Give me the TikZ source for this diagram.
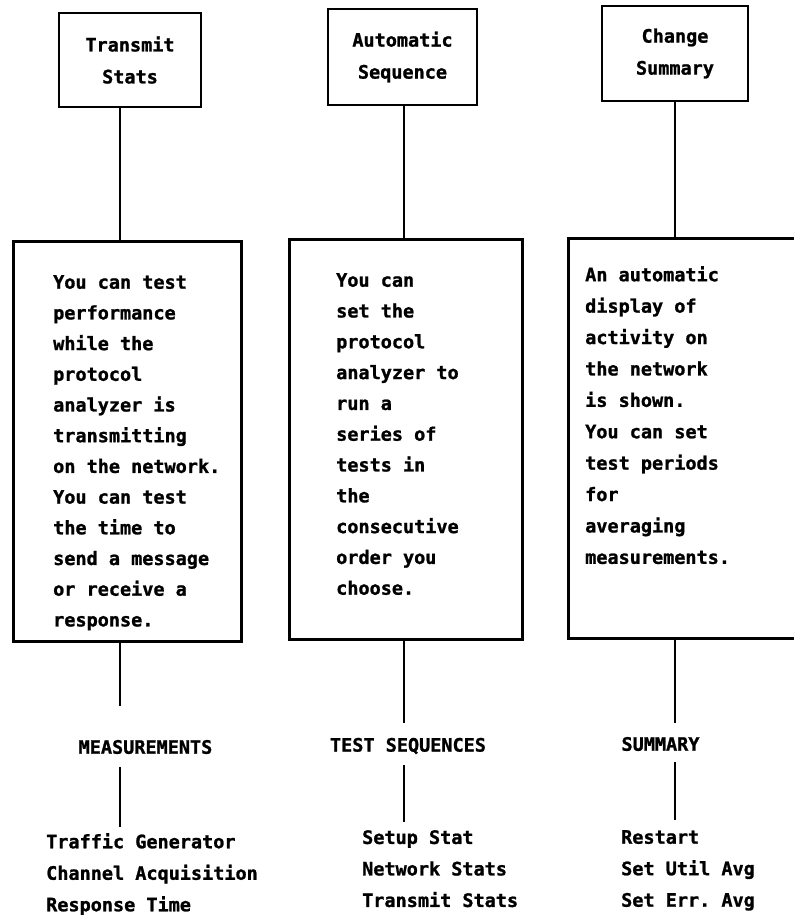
\documentclass[tikz,border=0pt]{standalone}
\usepackage{fontspec}
\setmonofont{DejaVu Sans Mono}[BoldFeatures={FakeBold=1.2}]
\tikzset{
  every node/.style={font=\ttfamily\bfseries\fontsize{18.5}{31}\selectfont},
  topbox/.style={draw, line width=2.6pt, inner sep=0pt, align=center,
    font=\ttfamily\bfseries\fontsize{18.5}{32}\selectfont},
  bigbox/.style={draw, line width=2.6pt, inner sep=0pt, anchor=north west, minimum height=400pt},
  body/.style={anchor=north west, align=left, inner sep=0pt},
  label/.style={inner sep=0pt},
  conn/.style={line width=2.6pt},
}
\begin{document}
\begin{tikzpicture}[x=1pt,y=-1pt]
\useasboundingbox (0,0) rectangle (794,915);
\clip (0,0) rectangle (794,915);
\fill[white] (0,0) rectangle (794,915);

% top boxes
\node[topbox, minimum width=142pt, minimum height=94pt] (t1) at (130,60) {Transmit\\Stats};
\node[topbox, minimum width=149pt, minimum height=96pt] (t2) at (402.5,57) {Automatic\\Sequence};
\node[topbox, minimum width=146pt, minimum height=95pt] (t3) at (675,53.5) {Change\\Summary};

% middle boxes
\node[bigbox, minimum width=228pt] (m1) at (12,240) {};
\node[bigbox, minimum width=233pt] (m2) at (288,238) {};
\node[bigbox, minimum width=260pt] (m3) at (567,237) {};

\node[body, font=\ttfamily\bfseries\fontsize{18.5}{30.7}\selectfont] (b1) at (53,275) {You can test\\performance\\while the\\protocol\\analyzer is\\transmitting\\on the network.\\You can test\\the time to\\send a message\\or receive a\\response.};
\node[body, font=\ttfamily\bfseries\fontsize{18.5}{30.8}\selectfont] (b2) at (336,273) {You can\\set the\\protocol\\analyzer to\\run a\\series of\\tests in\\the\\consecutive\\order you\\choose.};
\node[body, font=\ttfamily\bfseries\fontsize{18.5}{31.4}\selectfont] (b3) at (585,266) {An automatic\\display of\\activity on\\the network\\is shown.\\You can set\\test periods\\for\\averaging\\measurements.};

% section labels
\node[label] (l1) at (145.5,747) {MEASUREMENTS};
\node[label] (l2) at (408,746) {TEST SEQUENCES};
\node[label] (l3) at (660.5,744) {SUMMARY};

% lists
\node[body, font=\ttfamily\bfseries\fontsize{18.5}{31.5}\selectfont] (s1) at (46,833) {Traffic Generator\\Channel Acquisition\\Response Time};
\node[body, font=\ttfamily\bfseries\fontsize{18.5}{31.5}\selectfont] (s2) at (362,830) {Setup Stat\\Network Stats\\Transmit Stats};
\node[body, font=\ttfamily\bfseries\fontsize{18.5}{31.5}\selectfont] (s3) at (621,830) {Restart\\Set Util Avg\\Set Err. Avg};

% connector positions
\coordinate (x1) at (120,0);
\coordinate (x2) at (404,0);
\coordinate (x3) at (675,0);
\coordinate (e1) at (120,706);
\coordinate (e2) at (404,723);
\coordinate (e3) at (675,723);
\coordinate (p1) at (120,767);
\coordinate (q1) at (120,827);
\coordinate (p2) at (404,765);
\coordinate (q2) at (404,822);
\coordinate (p3) at (675,762);
\coordinate (q3) at (675,820);

\draw[conn] (t1.south -| x1) -- (m1.north -| x1);
\draw[conn] (t2.south -| x2) -- (m2.north -| x2);
\draw[conn] (t3.south -| x3) -- (m3.north -| x3);
\draw[conn] (m1.south -| x1) -- (e1);
\draw[conn] (m2.south -| x2) -- (e2);
\draw[conn] (m3.south -| x3) -- (e3);
\draw[conn] (p1) -- (q1);
\draw[conn] (p2) -- (q2);
\draw[conn] (p3) -- (q3);
\end{tikzpicture}
\end{document}
